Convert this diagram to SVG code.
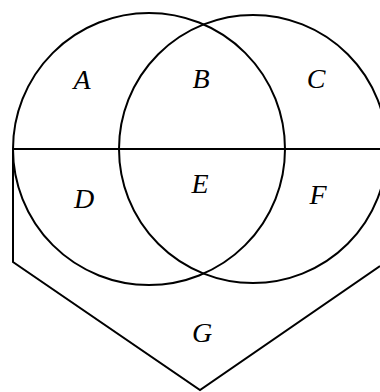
<svg xmlns="http://www.w3.org/2000/svg" width="380" height="392" viewBox="0 0 380 392">
<style>
.ln{fill:none;stroke:#000;stroke-width:2}
.lb{font-family:"Liberation Serif","Times New Roman",serif;font-style:italic;font-size:28px;fill:#000;text-anchor:middle}
</style>
<rect width="380" height="392" fill="#fff"/>
<g id="connectors">
<circle id="circleLeft" class="ln" cx="149" cy="149" r="136"/>
<circle id="circleRight" class="ln" cx="253" cy="149" r="134"/>
<line class="ln" x1="13" y1="149" x2="380" y2="149"/>
<polyline class="ln" points="13,149 13,262 200,390 380,266"/>
</g>
<g id="A"><text class="lb" x="82" y="89">A</text></g>
<g id="B"><text class="lb" x="201" y="88">B</text></g>
<g id="C"><text class="lb" x="316" y="88">C</text></g>
<g id="D"><text class="lb" x="84" y="208">D</text></g>
<g id="E"><text class="lb" x="200" y="193">E</text></g>
<g id="F"><text class="lb" x="318" y="204">F</text></g>
<g id="G"><text class="lb" x="202" y="342">G</text></g>
</svg>
